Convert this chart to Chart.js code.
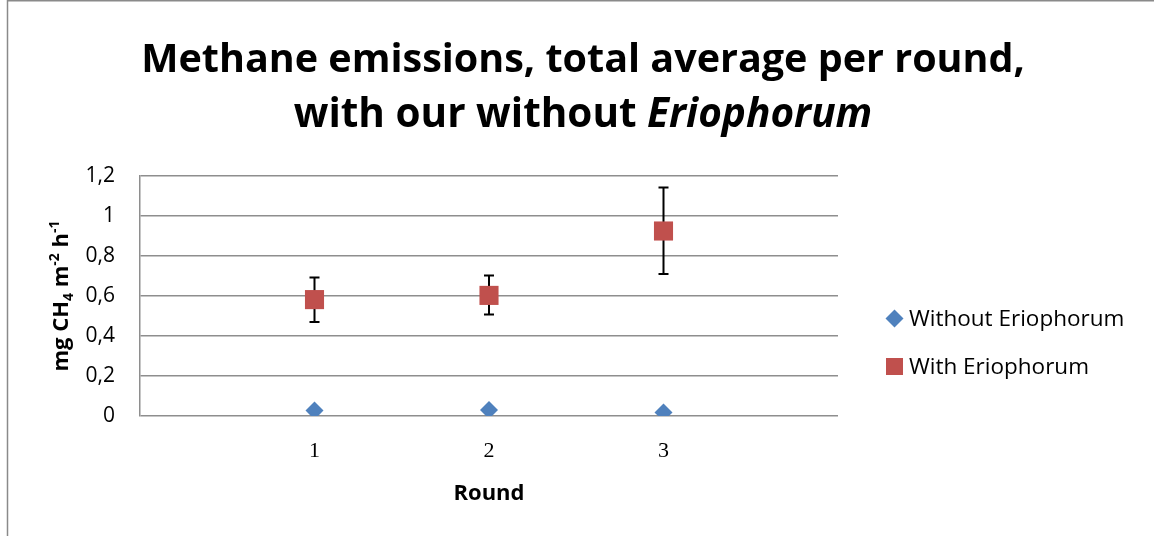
<!DOCTYPE html>
<html>
<head>
<meta charset="utf-8">
<script src="https://cdn.jsdelivr.net/npm/chart.js@4.4.0/dist/chart.umd.min.js"></script>
<style>
  html, body { margin: 0; padding: 0; background: #fff; }
  #wrap { width: 1154px; height: 536px; }
</style>
</head>
<body>
<div id="wrap"><canvas id="chart" width="1154" height="536"></canvas></div>
<script>
// data
const rounds = [1, 2, 3];
const withoutErio = [0.027, 0.030, 0.018];
const withErio = [0.582, 0.603, 0.925];
const withErioUpper = [0.692, 0.702, 1.142];
const withErioLower = [0.470, 0.507, 0.710];
const yTicks = [0, 0.2, 0.4, 0.6, 0.8, 1, 1.2];

const seriesNames = ["Without Eriophorum", "With Eriophorum"];
const blue = "#4F81BD";
const red = "#C0504D";

const toPoints = (vals) => rounds.map((r, i) => ({ x: r, y: vals[i] }));

// error bars drawn under the red squares
const errorBars = {
  id: "errorBars",
  beforeDatasetsDraw(chart) {
    const { ctx, scales } = chart;
    const meta = chart.getDatasetMeta(1);
    ctx.save();
    ctx.strokeStyle = "#000";
    ctx.lineWidth = 2;
    meta.data.forEach((pt, i) => {
      const top = scales.y.getPixelForValue(withErioUpper[i]);
      const bot = scales.y.getPixelForValue(withErioLower[i]);
      ctx.beginPath();
      ctx.moveTo(pt.x, top); ctx.lineTo(pt.x, bot);
      ctx.moveTo(pt.x - 5, top); ctx.lineTo(pt.x + 5, top);
      ctx.moveTo(pt.x - 5, bot); ctx.lineTo(pt.x + 5, bot);
      ctx.stroke();
    });
    ctx.restore();
  }
};

// title with italic genus name, y title with sub/superscripts, legend, frame
const decorations = {
  id: "decorations",
  afterDraw(chart) {
    const { ctx, chartArea } = chart;
    ctx.save();

    // frame
    ctx.strokeStyle = "#8a8a8a";
    ctx.lineWidth = 1.5;
    ctx.beginPath();
    ctx.moveTo(7.5, 536); ctx.lineTo(7.5, 0.75); ctx.lineTo(1154, 0.75);
    ctx.stroke();

    // title
    ctx.fillStyle = "#000";
    ctx.textBaseline = "alphabetic";
    ctx.textAlign = "left";
    const cx = 583;
    ctx.font = "bold 39.5px 'Open Sans'";
    const l1 = "Methane emissions, total average per round,";
    let w = ctx.measureText(l1).width;
    ctx.fillText(l1, cx - w / 2, 72);
    const a = "with our without ";
    const b = "Eriophorum";
    ctx.font = "bold 40.5px 'Open Sans'";
    const wa = ctx.measureText(a).width;
    ctx.font = "italic bold 40.5px 'Open Sans'";
    const wb = ctx.measureText(b).width;
    let x0 = cx - (wa + wb) / 2;
    ctx.font = "bold 40.5px 'Open Sans'";
    ctx.fillText(a, x0, 127);
    ctx.font = "italic bold 40.5px 'Open Sans'";
    ctx.fillText(b, x0 + wa, 127);

    // y axis title
    const parts = [
      { t: "mg CH", f: "bold 22px 'Open Sans'", dy: 0 },
      { t: "4", f: "bold 14px 'Open Sans'", dy: 5 },
      { t: " m", f: "bold 22px 'Open Sans'", dy: 0 },
      { t: "-2", f: "bold 14px 'Open Sans'", dy: -9 },
      { t: " h", f: "bold 22px 'Open Sans'", dy: 0 },
      { t: "-1", f: "bold 14px 'Open Sans'", dy: -9 }
    ];
    let total = 0;
    parts.forEach(p => { ctx.font = p.f; p.w = ctx.measureText(p.t).width; total += p.w; });
    ctx.translate(68, (chartArea.top + chartArea.bottom) / 2);
    ctx.rotate(-Math.PI / 2);
    let px = -total / 2;
    parts.forEach(p => { ctx.font = p.f; ctx.fillText(p.t, px, p.dy); px += p.w; });
    ctx.setTransform(1, 0, 0, 1, 0, 0);

    // legend
    const items = [
      { name: seriesNames[0], color: blue, style: "diamond", y: 318.5 },
      { name: seriesNames[1], color: red, style: "square", y: 366.5 }
    ];
    ctx.font = "22.5px 'Open Sans'";
    ctx.textBaseline = "alphabetic";
    items.forEach(it => {
      ctx.fillStyle = it.color;
      ctx.beginPath();
      if (it.style === "diamond") {
        ctx.moveTo(894.5, it.y - 9); ctx.lineTo(903.5, it.y); ctx.lineTo(894.5, it.y + 9); ctx.lineTo(885.5, it.y);
      } else {
        ctx.rect(886, it.y - 8.5, 17, 17);
      }
      ctx.fill();
      ctx.fillStyle = "#000";
      ctx.fillText(it.name, 909, it.y + 7.5);
    });
    ctx.restore();
  }
};

new Chart(document.getElementById("chart"), {
  type: "scatter",
  data: {
    datasets: [
      {
        label: seriesNames[0],
        data: toPoints(withoutErio),
        pointStyle: "rectRot",
        pointRadius: 9,
        pointHoverRadius: 9,
        backgroundColor: blue,
        borderColor: blue,
        borderWidth: 0
      },
      {
        label: seriesNames[1],
        data: toPoints(withErio),
        pointStyle: "rect",
        pointRadius: 13.5,
        pointHoverRadius: 13.5,
        backgroundColor: red,
        borderColor: red,
        borderWidth: 0
      }
    ]
  },
  options: {
    responsive: false,
    animation: false,
    layout: { padding: { top: 176, right: 316, left: 0, bottom: 0 } },
    plugins: {
      legend: { display: false },
      title: { display: false },
      tooltip: { enabled: false }
    },
    scales: {
      x: {
        type: "linear",
        min: 0,
        max: 4,
        afterBuildTicks: (scale) => { scale.ticks = rounds.map(v => ({ value: v })); },
        afterFit: (scale) => { scale.height = 120; },
        grid: { display: false, drawTicks: false },
        border: { display: false },
        ticks: {
          padding: 22,
          color: "#000",
          font: { family: "'Liberation Serif'", size: 22 },
          callback: (v) => String(v)
        },
        title: {
          display: true,
          text: "Round",
          color: "#000",
          font: { family: "'Open Sans'", size: 22, weight: "bold" },
          padding: { top: 0, bottom: 29 }
        }
      },
      y: {
        min: 0,
        max: 1.2,
        afterBuildTicks: (scale) => { scale.ticks = yTicks.map(v => ({ value: v })); },
        afterFit: (scale) => { scale.width = 140; },
        grid: { color: "#8e8e8e", lineWidth: 1.5, drawTicks: false },
        border: { display: true, color: "#8e8e8e", width: 1.5 },
        ticks: {
          padding: 25,
          color: "#000",
          font: { family: "'Open Sans'", size: 21 },
          callback: (v) => String(Math.round(v * 10) / 10).replace(".", ",")
        }
      }
    }
  },
  plugins: [errorBars, decorations]
});
</script>
</body>
</html>
